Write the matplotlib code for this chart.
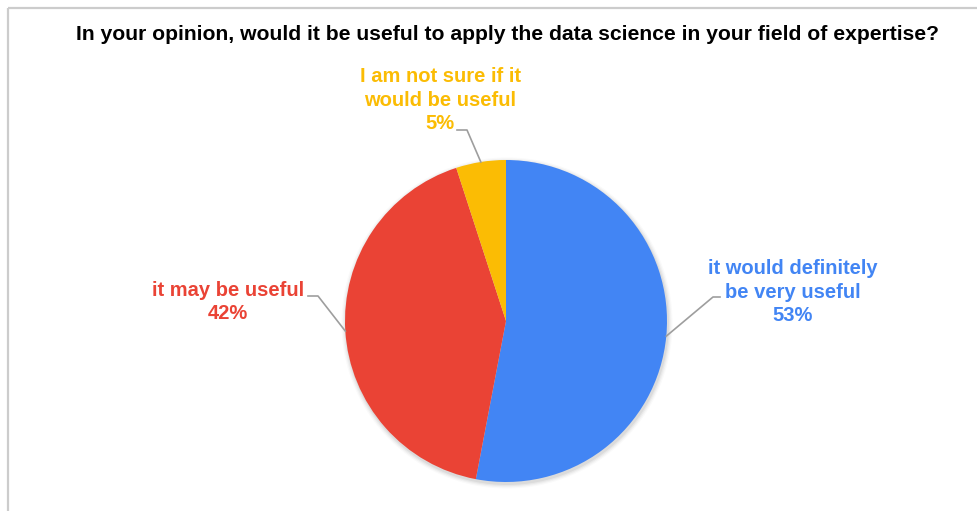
import numpy as np
import matplotlib.pyplot as plt
from matplotlib.patches import Circle

plt.rcParams['font.family'] = ['Liberation Sans', 'DejaVu Sans']

# survey answers, clockwise from 12 o'clock
labels = ["it would definitely\nbe very useful", "it may be useful", "I am not sure if it\nwould be useful"]
shares = [53, 42, 5]
colors = ["#4285F4", "#EA4335", "#FBBC04"]

title = "In your opinion, would it be useful to apply the data science in your field of expertise?"

W, H = 978, 511
fig = plt.figure(figsize=(W / 100, H / 100), dpi=100)
ax = fig.add_axes([0, 0, 1, 1])
ax.set_xlim(0, W)
ax.set_ylim(0, H)
ax.set_aspect('equal')
ax.axis('off')

# light frame along top and left edge
ax.plot([7.5, W], [H - 7.5, H - 7.5], color="#cccccc", lw=1.6, solid_capstyle='butt')
ax.plot([7.5, 7.5], [0, H - 7.5], color="#cccccc", lw=1.6, solid_capstyle='butt')

ax.text(507, H - 34, title, ha='center', va='center', fontsize=15.2, fontweight='bold', color='black')

cx, cy, r = 506, H - 321, 161

# soft drop shadow under the pie
for k, a in enumerate([0.05, 0.04, 0.03, 0.02]):
    ax.add_patch(Circle((cx + 1, cy - 2), r + 1 + k * 1.2, color='black', alpha=a, lw=0, zorder=1))

wedges, _ = ax.pie(shares, colors=colors, startangle=90, counterclock=False,
                   center=(cx, cy), radius=r, frame=True,
                   wedgeprops=dict(linewidth=0, zorder=2))
ax.set_xlim(0, W)
ax.set_ylim(0, H)
ax.axis('off')

# label anchor (text centre), elbow of leader, end of short horizontal run
label_pos = [(793, H - 292), (228, H - 302), (440, H - 100)]
elbows = [(713, H - 297), (318, H - 296), (467, H - 130)]
ends = [(720, H - 297), (308, H - 296), (457, H - 130)]

for w, lab, s, col, lp, el, en in zip(wedges, labels, shares, colors, label_pos, elbows, ends):
    mid = np.deg2rad((w.theta1 + w.theta2) / 2)
    px, py = cx + r * np.cos(mid), cy + r * np.sin(mid)
    ax.plot([px, el[0], en[0]], [py, el[1], en[1]], color="#9e9e9e", lw=1.2, zorder=3)
    ax.text(lp[0], lp[1], f"{lab}\n{s}%", ha='center', va='center', color=col,
            fontsize=14.5, fontweight='bold', linespacing=1.3)

fig.savefig("out.png", dpi=100)
